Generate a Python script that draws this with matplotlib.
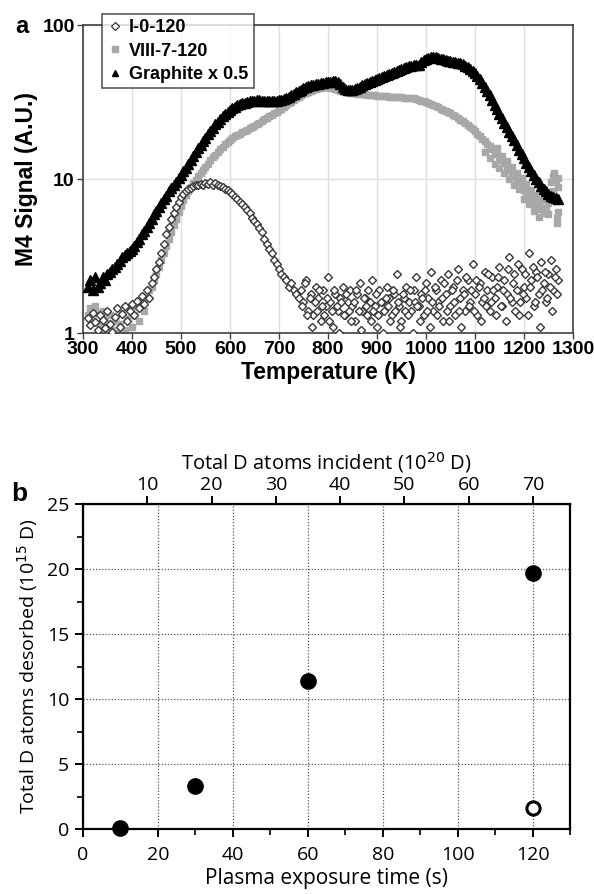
import numpy as np
import matplotlib
matplotlib.use('Agg')
import matplotlib.pyplot as plt
from matplotlib.lines import Line2D
from matplotlib.ticker import MultipleLocator, FixedLocator, NullLocator

# ---------------- panel a data (M4 signal vs temperature) ----------------
temp_main = np.arange(310, 1271, 5)

# I-0-120, low temperature part (310-740 K)
io_temp_lo = np.arange(310, 741, 5)
io_lo = [1.25, 1.12, 1.35, 1.18, 1.05, 1.30, 1.22, 1.08, 1.40, 1.15,
         1.02, 1.28, 1.45, 1.10, 1.32, 1.50, 1.20, 1.38, 1.55, 1.30,
         1.62, 1.45, 1.75, 1.55, 1.90, 1.70, 2.10, 2.30, 2.60, 2.90,
         3.3, 3.8, 4.4, 4.9, 5.5, 6.0, 6.6, 7.1, 7.6, 8.0,
         8.3, 8.6, 8.8, 9.0, 9.1, 9.2, 9.3, 9.2, 9.4, 9.3,
         9.5, 9.2, 9.4, 9.1, 9.0, 8.9, 8.6, 8.5, 8.2, 8.0,
         7.7, 7.4, 7.1, 6.9, 6.6, 6.3, 6.0, 5.6, 5.3, 5.1,
         4.8, 4.5, 4.1, 3.8, 3.5, 3.3, 3.0, 2.8, 2.6, 2.4,
         2.3, 2.2, 2.0, 2.1, 1.9, 1.8, 1.7]

# I-0-120, noisy high temperature part, two interleaved sets
io_temp_hi_a = np.arange(745, 1271, 5)
io_hi_a = [1.9, 1.6, 2.2, 1.4, 1.8, 1.3, 2.0, 1.7, 1.2, 1.9,
           1.5, 2.3, 1.6, 1.1, 1.8, 1.4, 1.7, 2.0, 1.3, 1.6,
           1.9, 1.5, 1.2, 1.8, 2.1, 1.4, 1.7, 1.3, 1.6, 2.2,
           1.5, 1.1, 1.9, 1.6, 1.4, 2.0, 1.7, 1.3, 1.8, 2.4,
           1.5, 1.2, 1.7, 2.0, 1.6, 1.4, 1.9, 2.3, 1.5, 1.8,
           1.3, 2.1, 1.7, 2.5, 1.4, 1.9, 1.6, 2.2, 1.2, 1.8,
           2.4, 1.5, 2.0, 1.3, 2.6, 1.7, 1.9, 1.4, 2.2, 1.6,
           2.8, 1.8, 1.3, 2.1, 1.6, 2.5, 1.9, 1.4, 2.3, 1.7,
           2.0, 2.7, 1.5, 2.2, 1.8, 3.1, 1.6, 2.4, 1.9, 1.3,
           2.6, 2.0, 1.7, 3.3, 2.2, 1.5, 2.5, 1.8, 2.9, 2.1,
           1.6, 2.4, 3.0, 1.9, 2.6, 2.2]
io_temp_hi_b = np.arange(747.5, 1268, 5)
io_hi_b = [1.5, 2.1, 1.3, 1.7, 1.1, 1.6, 1.4, 1.9, 1.5, 1.3,
           1.7, 1.2, 1.4, 1.9, 1.5, 1.0, 1.6, 1.3, 1.8, 1.4,
           1.2, 1.6, 1.9, 1.4, 1.05, 1.7, 1.5, 1.9, 1.2, 1.4,
           1.8, 1.3, 1.6, 1.0, 1.7, 1.5, 1.2, 1.9, 1.4, 1.6,
           1.1, 1.8, 1.4, 1.3, 1.9, 1.0, 1.6, 1.5, 1.2, 1.7,
           1.9, 1.4, 1.1, 1.6, 2.0, 1.3, 1.5, 1.7, 2.1, 1.4,
           1.2, 1.9, 1.6, 2.2, 1.4, 1.1, 1.8, 2.3, 1.5, 1.9,
           1.4, 2.2, 2.0, 1.2, 1.7, 1.5, 2.4, 1.6, 1.9, 1.3,
           2.3, 1.5, 1.9, 1.2, 2.6, 1.7, 2.1, 1.4, 2.8, 1.6,
           1.8, 2.4, 1.3, 2.0, 2.7, 1.6, 2.3, 1.1, 1.9, 2.5,
           1.7, 2.0, 1.4, 2.3, 1.8]

# VIII-7-120
viii = [1.30, 1.45, 1.20, 1.50, 1.35, 1.15, 1.40, 1.25, 1.10, 1.30,
        1.05, 1.20, 1.00, 1.15, 1.35, 1.05, 1.25, 1.45, 1.10, 1.30,
        1.50, 1.20, 1.60, 1.40, 1.70, 1.90, 2.00, 2.20, 2.40, 2.70,
        3.0, 3.3, 3.7, 4.1, 4.5, 5.0, 5.5, 6.1, 6.7, 7.3,
        7.9, 8.4, 8.9, 9.4, 9.9, 10.4, 10.9, 11.5, 12.0, 12.6,
        13.2, 13.8, 14.4, 15.0, 15.6, 16.2, 16.8, 17.3, 17.9, 18.4,
        18.9, 19.3, 19.7, 20.1, 20.5, 20.9, 21.3, 21.7, 22.2, 22.7,
        23.2, 23.8, 24.4, 25.0, 25.6, 26.2, 26.8, 27.4, 28.0, 28.7,
        29.5, 30.3, 31.0, 31.8, 32.6, 33.4, 34.2, 35.0, 35.6, 36.2,
        36.9, 37.5, 38.0, 38.5, 38.9, 39.2, 39.4, 39.5, 39.4, 39.2,
        38.8, 38.3, 37.8, 37.4, 37.1, 36.8, 36.6, 36.4, 36.2, 36.0,
        35.9, 35.7, 35.6, 35.5, 35.3, 35.2, 35.0, 34.9, 34.8, 34.7,
        34.6, 34.5, 34.4, 34.3, 34.2, 34.1, 34.0, 34.1, 33.9, 33.8,
        33.7, 33.6, 33.4, 33.6, 33.0, 32.6, 32.2, 31.9, 31.5, 31.1,
        30.7, 30.2, 29.7, 29.2, 28.7, 28.2, 27.7, 27.2, 26.7, 26.1,
        25.5, 24.9, 24.3, 23.7, 23.1, 22.5, 21.8, 21.1, 20.4, 19.7,
        19.0, 18.3, 17.6, 16.9, 16.3, 15.7, 15.1, 14.5, 13.9, 13.3,
        12.7, 12.1, 11.5, 10.9, 10.4, 9.9, 9.4, 8.9, 8.5, 8.1,
        7.7, 7.4, 7.1, 6.8, 6.6, 6.4, 6.3, 6.5, 7.0, 7.6,
        8.4, 7.2, 6.1]
viii_extra_temp = [1120, 1130, 1140, 1145, 1150, 1155, 1160, 1165, 1170, 1175,
                   1180, 1185, 1190, 1195, 1200, 1205, 1210, 1215, 1220, 1225,
                   1230, 1235, 1240, 1245, 1250, 1255, 1260, 1265, 1268, 1270,
                   1270, 1268, 1262]
viii_extra = [15.0, 13.6, 12.6, 15.8, 11.8, 14.2, 10.9, 13.1, 10.0, 12.0,
              9.2, 11.0, 8.6, 10.1, 7.4, 9.3, 6.9, 8.5, 6.2, 7.9,
              5.7, 7.3, 6.0, 8.2, 5.9, 9.6, 10.4, 9.9, 5.2, 10.1,
              8.9, 5.6, 11.0]

# Graphite x 0.5
graphite = [2.0, 2.2, 1.9, 2.3, 2.0, 2.1, 2.3, 2.2, 2.4, 2.5,
            2.6, 2.7, 2.8, 2.95, 3.1, 3.2, 3.3, 3.4, 3.5, 3.7,
            3.9, 4.1, 4.4, 4.6, 4.9, 5.2, 5.5, 5.9, 6.2, 6.6,
            7.0, 7.4, 7.8, 8.3, 8.7, 9.2, 9.6, 10.1, 10.6, 11.2,
            11.8, 12.5, 13.3, 14.1, 15.0, 15.8, 16.7, 17.6, 18.6, 19.6,
            20.6, 21.6, 22.6, 23.6, 24.6, 25.5, 26.4, 27.3, 28.1, 28.8,
            29.5, 30.1, 30.6, 31.0, 31.4, 31.7, 32.0, 32.2, 32.3, 32.4,
            32.4, 32.3, 32.2, 32.1, 32.0, 32.0, 32.1, 32.2, 32.4, 32.7,
            33.1, 33.6, 34.2, 34.9, 35.7, 36.5, 37.3, 38.1, 38.8, 39.5,
            40.1, 40.6, 41.0, 41.4, 41.7, 42.0, 42.3, 42.5, 42.7, 42.9,
            43.0, 43.0, 42.8, 41.5, 39.8, 38.6, 37.9, 37.7, 37.8, 38.3,
            39.0, 39.8, 40.5, 41.2, 41.9, 42.6, 43.3, 44.0, 44.7, 45.4,
            46.1, 46.8, 47.5, 48.2, 48.9, 49.6, 50.3, 51.0, 51.8, 52.5,
            53.2, 53.9, 54.5, 54.8, 55.0, 55.2, 57.5, 59.3, 60.5, 61.3,
            61.8, 62.0, 61.8, 61.3, 60.6, 59.9, 59.3, 58.7, 58.2, 57.7,
            57.2, 56.8, 56.3, 55.6, 54.6, 53.4, 52.0, 50.4, 48.6, 46.6,
            44.4, 42.1, 39.7, 37.3, 34.9, 32.6, 30.4, 28.3, 26.5, 24.8,
            23.2, 21.7, 20.3, 19.0, 17.8, 16.6, 15.5, 14.5, 13.6, 12.7,
            11.9, 11.2, 10.6, 10.0, 9.5, 9.0, 8.6, 8.3, 8.0, 7.8,
            7.6, 7.5, 7.4]

# ---------------- panel b data ----------------
exposure_time = [10, 30, 60, 120]
desorbed = [0.1, 3.3, 11.4, 19.7]
open_time = [120]
open_desorbed = [1.6]
incident_per_s = 70 / 120   # 10^20 D per second of exposure

fig = plt.figure(figsize=(5.94, 8.94), dpi=100)

# ================= panel a =================
fa = ['Liberation Sans', 'DejaVu Sans']
axa = fig.add_axes([0.1397, 0.6275, 0.8249, 0.3445])
axa.set_yscale('log')
axa.set_xlim(300, 1300)
axa.set_ylim(1, 100)

gray = '#a8a8a8'
axa.plot(temp_main, viii, ls='none', marker='s', ms=4.8, mfc=gray, mec=gray, zorder=2)
axa.plot(viii_extra_temp, viii_extra, ls='none', marker='s', ms=4.8, mfc=gray, mec=gray, zorder=2)
dia = dict(ls='none', marker='D', ms=4.2, mfc='white', mec='#383838', mew=1.0, zorder=3)
axa.plot(io_temp_lo, io_lo, **dia)
axa.plot(io_temp_hi_a, io_hi_a, **dia)
axa.plot(io_temp_hi_b, io_hi_b, **dia)
axa.plot(temp_main, graphite, ls='none', marker='^', ms=6.5, mfc='black', mec='black', zorder=4)

axa.xaxis.set_major_locator(MultipleLocator(100))
axa.yaxis.set_major_locator(FixedLocator([1, 10, 100]))
axa.yaxis.set_minor_locator(NullLocator())
axa.set_yticklabels(['1', '10', '100'])
axa.grid(True, which='major', color='#e0e0e0', lw=1.0)
axa.set_axisbelow(True)
for s in axa.spines.values():
    s.set_color('#404040')
    s.set_linewidth(1.2)
axa.tick_params(direction='out', length=4, width=1, color='#404040', pad=2)
for lab in axa.get_xticklabels() + axa.get_yticklabels():
    lab.set_family(fa)
    lab.set_fontweight('bold')
    lab.set_fontsize(14)
axa.set_xlabel('Temperature (K)', family=fa, fontweight='bold', fontsize=16.5, labelpad=2)
axa.set_ylabel('M4 Signal (A.U.)', family=fa, fontweight='bold', fontsize=16.5, labelpad=3)

handles = [
    Line2D([], [], ls='none', marker='D', ms=3.8, mfc='white', mec='#383838', mew=0.9),
    Line2D([], [], ls='none', marker='s', ms=4.5, mfc=gray, mec=gray),
    Line2D([], [], ls='none', marker='^', ms=5, mfc='black', mec='black'),
]
leg = axa.legend(handles, ['I-0-120', 'VIII-7-120', 'Graphite x 0.5'],
                 loc='upper left', bbox_to_anchor=(102 / 594, 1 - 14 / 894),
                 bbox_transform=fig.transFigure, frameon=True, fancybox=False,
                 edgecolor='#303030', borderpad=0.3, handlelength=0.8,
                 handletextpad=0.4, labelspacing=0.35, borderaxespad=0,
                 prop=dict(family=fa, weight='bold', size=13))
leg.get_frame().set_linewidth(1.2)
leg.set_zorder(10)
fig.text(15 / 594, 1 - 33 / 894, 'a', family=fa, fontweight='bold', fontsize=17,
         va='baseline', ha='left')

# ================= panel b =================
fb = ['Open Sans', 'DejaVu Sans']
axb = fig.add_axes([0.1397, 0.0727, 0.8207, 0.3635])
axb.set_xlim(0, 130)
axb.set_ylim(0, 25)
axb.plot(exposure_time, desorbed, ls='none', marker='o', ms=11, mfc='black', mec='black',
         zorder=5, clip_on=False)
axb.plot(open_time, open_desorbed, ls='none', marker='o', ms=9.5, mfc='white', mec='black',
         mew=2.2, zorder=5, clip_on=False)

axb.xaxis.set_major_locator(MultipleLocator(20))
axb.xaxis.set_minor_locator(MultipleLocator(10))
axb.yaxis.set_major_locator(MultipleLocator(5))
axb.yaxis.set_minor_locator(MultipleLocator(2.5))
axb.grid(True, which='major', color='#555555', ls=(0, (1, 1.5)), lw=0.9)
axb.set_axisbelow(True)
for s in axb.spines.values():
    s.set_color('black')
    s.set_linewidth(1.6)
axb.tick_params(which='major', direction='out', length=6, width=1.4)
axb.tick_params(axis='x', which='major', pad=6)
axb.tick_params(axis='y', which='major', pad=4)
axb.tick_params(which='minor', direction='out', length=4.5, width=1.2)
for lab in axb.get_xticklabels() + axb.get_yticklabels():
    lab.set_family(fb)
    lab.set_fontsize(14)
axb.set_xlabel('Plasma exposure time (s)', family=fb, fontsize=15, labelpad=3)
axb.set_ylabel('Total D atoms desorbed (10$^{15}$ D)', family=fb, fontsize=14, labelpad=5)

top = axb.secondary_xaxis('top', functions=(lambda t: t * incident_per_s,
                                            lambda d: d / incident_per_s))
top.xaxis.set_major_locator(FixedLocator([10, 20, 30, 40, 50, 60, 70]))
top.tick_params(direction='out', length=6, width=1.4, pad=1)
for lab in top.get_xticklabels():
    lab.set_family(fb)
    lab.set_fontsize(14)
top.set_xlabel('Total D atoms incident (10$^{20}$ D)', family=fb, fontsize=14.5, labelpad=5)
fig.text(11 / 594, 1 - 501 / 894, 'b', family=fa, fontweight='bold', fontsize=19,
         va='baseline', ha='left')

fig.savefig('out.png', dpi=100)
